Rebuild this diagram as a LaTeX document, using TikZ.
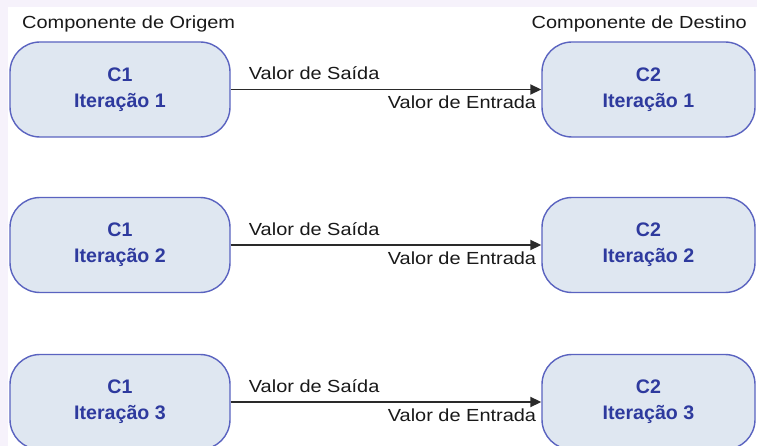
\documentclass[tikz,border=0pt]{standalone}
\usepackage{fontspec}
\setmainfont{Liberation Sans}
\newfontfamily\labfont[FakeStretch=1.14]{Liberation Sans}
\usetikzlibrary{arrows.meta}
\definecolor{boxfill}{HTML}{DFE7F1}
\definecolor{boxline}{HTML}{5A63C0}
\definecolor{boxtext}{HTML}{2E3A9E}
\definecolor{marginc}{HTML}{F6F2FB}
\definecolor{arrowc}{HTML}{2A2A2A}
\begin{document}
\begin{tikzpicture}[x=1pt,y=-1pt,
  comp/.style={draw=boxline, line width=1.4pt, fill=boxfill, rounded corners=30pt,
    minimum height=95pt, inner sep=0pt, align=center,
    font=\fontsize{19.6}{26}\selectfont\bfseries, text=boxtext},
  srcbox/.style={comp, minimum width=220pt},
  dstbox/.style={comp, minimum width=213pt},
  lab/.style={font=\labfont\fontsize{17.5}{20}\selectfont, inner sep=0pt, text=black!90},
  flow/.style={draw=arrowc, line width=1.8pt, -{Triangle[length=11pt,width=10pt]}}]
\useasboundingbox (0,0) rectangle (757,446);
\clip (0,0) rectangle (757,446);
\fill[marginc] (0,0) rectangle (757,446);
\fill[white] (8,7) rectangle (757,446);

\node[lab, anchor=base west] (h1) at (22,29) {Componente de Origem};
\node[lab, anchor=base east] (h2) at (747,28.5) {Componente de Destino};

\foreach \i/\y in {1/89.5, 2/245, 3/402} {
  \node[srcbox] (a\i) at (120,\y) {C1\\Iteração \i};
  \node[dstbox] (b\i) at (648.5,\y) {C2\\Iteração \i};
  \draw[flow] (a\i) -- (b\i);
  \path (a\i.east) ++(18,-9.8) node[lab, anchor=base west] (s\i) {Valor de Saída};
  \path (b\i.west) ++(-5,19.5) node[lab, anchor=base east] (e\i) {Valor de Entrada};
}
\end{tikzpicture}
\end{document}
